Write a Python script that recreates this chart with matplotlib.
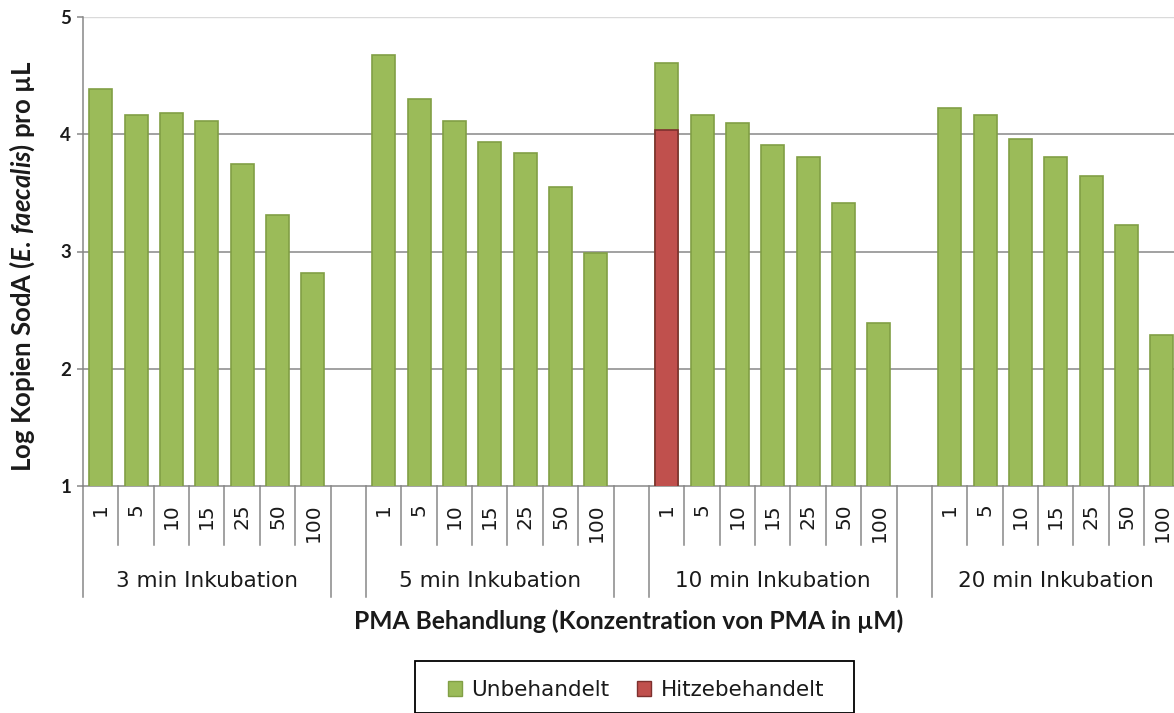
import matplotlib
matplotlib.use("Agg")
import matplotlib.pyplot as plt
import matplotlib.patches as mpatches
import numpy as np

# PMA concentrations (µM) and incubation groups
concentrations = ["1", "5", "10", "15", "25", "50", "100"]
groups = ["3 min Inkubation", "5 min Inkubation", "10 min Inkubation", "20 min Inkubation"]

# log copies per µL, untreated samples
untreated_3 = [4.39, 4.16, 4.18, 4.11, 3.75, 3.31, 2.82]
untreated_5 = [4.68, 4.30, 4.11, 3.93, 3.84, 3.55, 2.99]
untreated_10 = [4.61, 4.16, 4.10, 3.91, 3.81, 3.41, 2.39]
untreated_20 = [4.22, 4.16, 3.96, 3.81, 3.64, 3.23, 2.29]
# heat treated sample (10 min, 1 µM)
heat_10 = 4.04

GREEN = "#9BBB59"
GREEN_EDGE = "#819F45"
RED = "#C0504D"
RED_EDGE = "#7D302E"
GRAY = "#878787"
TEXT = "#1A1A1A"

plt.rcParams["mathtext.fontset"] = "custom"
plt.rcParams["mathtext.it"] = "Lato:italic:bold"
plt.rcParams["mathtext.rm"] = "Lato:bold"

fig = plt.figure(figsize=(11.74, 7.13), dpi=100)
W, H = 1174.0, 713.0
ncat = 31
catw = 35.375
ax = fig.add_axes([83 / W, 1 - 486 / H, ncat * catw / W, 469 / H])

# category slots: 7 bars per group, one empty slot between groups
xpos = [g * 8 + i for g in range(4) for i in range(7)]
values = untreated_3 + untreated_5 + untreated_10 + untreated_20

bw = 0.65
ax.bar(xpos, values, width=bw, color=GREEN, edgecolor=GREEN_EDGE, linewidth=1.2,
       zorder=3, label="Unbehandelt")
ax.bar([16], [heat_10], width=bw, color=RED, edgecolor=RED_EDGE, linewidth=1.2,
       zorder=4, label="Hitzebehandelt")

ax.set_xlim(-0.5, ncat - 0.5)
ax.set_ylim(1, 5)
ax.set_yticks([1, 2, 3, 4, 5])
ax.set_xticks([])
for t in [2, 3, 4]:
    ax.axhline(t, color=GRAY, lw=1.1, zorder=1)
ax.axhline(5, color="#DADADA", lw=1.0, zorder=1)

for s in ["top", "right"]:
    ax.spines[s].set_visible(False)
for s in ["left", "bottom"]:
    ax.spines[s].set_color(GRAY)
    ax.spines[s].set_linewidth(1.1)
ax.tick_params(axis="y", direction="out", length=4.5, width=1.1, color=GRAY,
               pad=4, labelsize=13.5, labelcolor=TEXT)
for lab in ax.get_yticklabels():
    lab.set_fontfamily("Lato")
    lab.set_fontweight("bold")

# category separators below the axis
tr = ax.get_xaxis_transform()
short_y = -59 / 469.0
long_y = -111 / 469.0
bounds_long = [-0.5]
for g in range(4):
    start = g * 8
    end = start + 7
    for b in range(start + 1, end):
        ax.plot([b - 0.5, b - 0.5], [0, short_y], transform=tr, color=GRAY,
                lw=1.1, clip_on=False)
    bounds_long += [end - 0.5, end + 0.5]
for b in bounds_long:
    if b <= ncat - 0.5:
        ax.plot([b, b], [0, long_y], transform=tr, color=GRAY, lw=1.1,
                clip_on=False)

for g in range(4):
    for i, c in enumerate(concentrations):
        ax.text(g * 8 + i, -17 / 469.0, c, transform=tr, rotation=90,
                ha="center", va="top", fontsize=14.5, family="DejaVu Sans",
                color=TEXT)
    ax.text(g * 8 + 3, -95 / 469.0, groups[g], transform=tr, ha="center",
            va="center", fontsize=15.5, family="DejaVu Sans", color=TEXT)

fig.text(629 / W, 1 - 621 / H, "PMA Behandlung (Konzentration von PMA in µM)",
         ha="center", va="center", fontsize=17.7, family="Lato", fontweight="bold",
         color=TEXT)
fig.text(22 / W, 1 - 266 / H, r"Log Kopien SodA ($\mathit{E.\,faecalis}$) pro µL",
         ha="center", va="center", rotation=90, fontsize=18.5, family="Lato",
         fontweight="bold", color=TEXT)

# legend with a square frame running off the bottom edge
frame = mpatches.Rectangle((415 / W, 0), (854 - 415) / W, (713 - 668) / H + 0.01,
                           transform=fig.transFigure, fill=False,
                           edgecolor="black", lw=1.3, clip_on=False)
fig.patches.append(frame)
handles = [mpatches.Patch(facecolor=GREEN, edgecolor=GREEN_EDGE),
           mpatches.Patch(facecolor=RED, edgecolor=RED_EDGE)]
fig.legend(handles, ["Unbehandelt", "Hitzebehandelt"], loc="center",
           bbox_to_anchor=(636 / W, 1 - 690 / H), ncol=2, frameon=False,
           prop={"family": "DejaVu Sans", "size": 15.5}, labelcolor=TEXT,
           handlelength=0.65, handleheight=0.65, handletextpad=0.45,
           columnspacing=1.3)

fig.savefig("out.png", dpi=100)
